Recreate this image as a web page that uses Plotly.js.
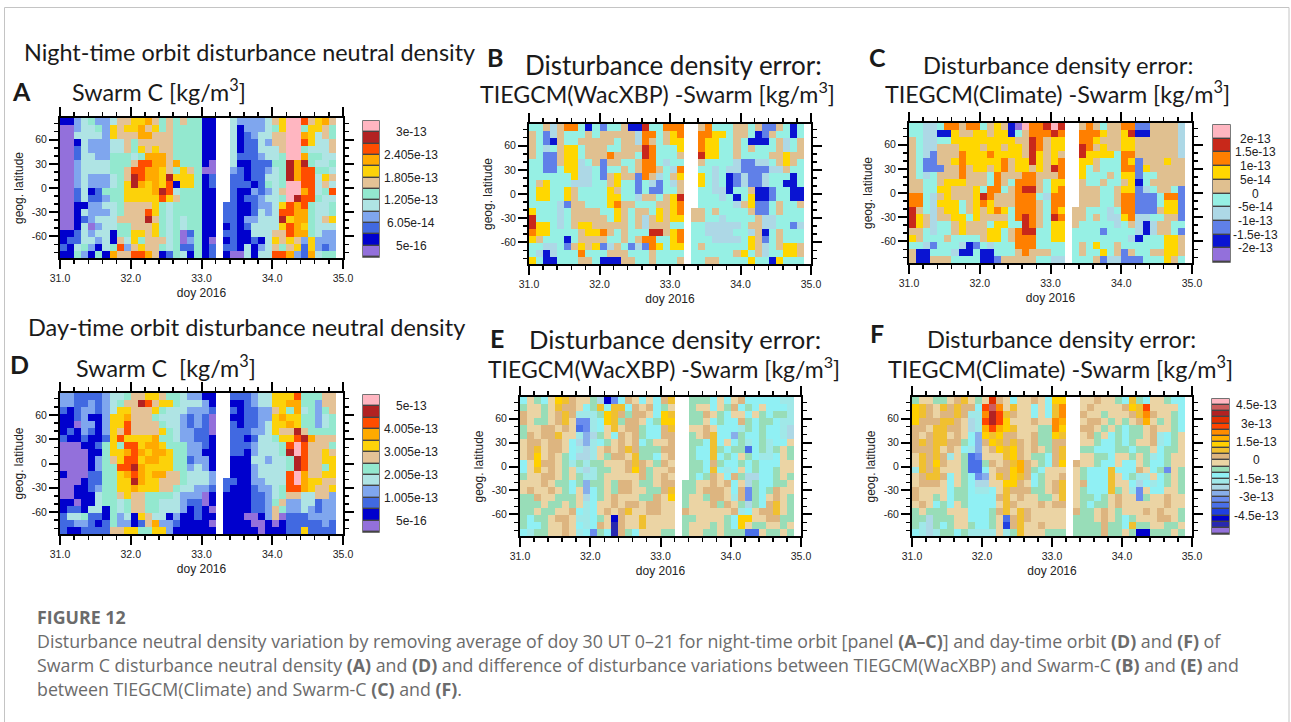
<!DOCTYPE html>
<html><head><meta charset="utf-8">
<script src="https://cdn.plot.ly/plotly-3.0.1.min.js"></script>
<style>html,body{margin:0;padding:0;background:#fff;overflow:hidden}#p{width:1291px;height:722px}</style>
</head><body><div id="p"></div>
<script>
// Level codes, top row (lat +87) to bottom (lat -87), 39 columns of 0.1 day from doy 31.0
const rowsA=[
"1134533466 7786565655 11 .. 433334 67bb96786",
"0034453767 7867565555 11 .. 413334 57bb57765",
"0044443766 6886665555 11 .. 412344 66bb87465",
"0014333446 5666665555 11 .. 412243 66bb97446",
"0024333446 5767665555 11 .. 412244 46bb54446",
"0024433555 4588865555 11 .. 422234 45bb85544",
"0034444555 6998868555 10 .. 411222 55a8a5445",
"0034444556 9988765765 00 .. 321223 45a899554",
"0034333456 a9887a7775 12 .. 221224 45a899476",
"0034333457 a878791775 12 .. 222125 45bb99464",
"0024125557 7778a94555 11 .. 211323 46bb89459",
"0024223557 7777976555 11 .. 212234 45ba99544",
"0011334456 6667545555 11 .2 211233 479895445",
"0014333456 6697545555 11 .2 211243 499885445",
"0012344466 66a6545455 11 .2 213344 4a7885467",
"0014034455 6667545455 11 .1 212444 479875444",
"1124344155 7767545025 11 .2 211444 669885433",
"1224434164 7566645035 10 .1 211214 767637333",
"2145314593 6766545225 12 .2 214134 656727323",
"1153151866 9986125415 12 .1 004144 998328455"];
const rowsD=[
"3322223445 6677655433 11 .. 222344 777955566",
"3322323456 6a96775444 31 .. 112344 778855366",
"2123323477 6667544433 32 .. 212233 675845356",
"1123113778 6665444323 20 .. 112233 787755345",
"1103313779 6666544323 20 .. 212234 778755345",
"1213213769 6666754332 20 .. 222334 766a65555",
"2112112797 7778554332 21 .. 221244 5779a8666",
"0001125759 9788755533 21 .. 222344 459b96665",
"0000115778 9878875533 11 .. 221344 45ab96676",
"0000135679 9788775523 31 .. 111443 445a96677",
"0000135599 a877775534 31 .. 111344 445a96657",
"1000225578 9878866544 43 .. 111344 449b86677",
"0001225577 a877666544 43 .2 211334 449b87766",
"0011235577 8777665443 32 .2 111233 459987667",
"0011145567 6655554333 01 .1 111223 456644663",
"1101145545 6655444322 01 .1 111223 563344233",
"1221441545 6655444312 10 .1 111223 653343233",
"2445221534 1764413112 11 .1 110013 602223333",
"2233212533 1268332111 10 .1 111001 012222232",
"2112222667 7557731111 11 .1 111101 112272222"];
const rowsB=[
"4453577414 2445118447 77 .. 574445 545225414",
"5423544454 5555537745 67 .. 776645 541254414",
"5421544555 5545537545 66 .. 766445 411145345",
"5434566455 5445558744 46 .. 766445 454445345",
"5422566455 5755548744 45 .. 866445 444455655",
"4422566345 2554457743 44 .. 544443 223345654",
"4422466334 2445457754 37 .. 443433 222233544",
"4444446334 2565527534 56 .. 643412 322344414",
"4564443334 4564424324 35 .. 643412 322344114",
"4664465444 4654424224 45 .. 443314 451124411",
"4664465444 4664435545 68 .. 444341 461124411",
"4444325544 4675544455 67 .. 444443 562245445",
"6444345555 4465455465 67 .5 545444 452245444",
"8444345555 5465453565 66 .5 544344 445334444",
"8664345665 5555453555 44 .4 433333 455334423",
"7664444566 7545444885 67 .4 433334 435145444",
"6544414555 5445457744 67 .4 443333 465245444",
"4433425656 2354232764 66 .4 544444 465345665",
"4313444744 4555444544 44 .4 444445 645344665",
"6411444554 1115544544 45 .4 455444 464416444"];
const rowsC=[
"4433477577 4565109778 98 .. 575455 772255553",
"4433116556 6566145777 87 .. 777655 681155553",
"5433446666 6666655875 66 .. 776555 665555553",
"5433555666 5665665875 66 .. 875655 665555553",
"5432555766 6766665865 65 .. 866664 775555553",
"5422556766 6667566865 67 .. 665444 762555655",
"5422255756 6567566565 87 .. 645444 772655555",
"5434555755 5475557755 57 .. 644454 662445555",
"5544566655 5475477754 66 .. 544544 561455555",
"5544665556 4774578854 67 .. 555445 662345542",
"7743565556 8755577743 77 .. 555445 772224772",
"7743666456 7655577754 77 .. 555445 772224662",
"8543566456 5676477754 76 .5 544434 772225662",
"8653556646 5555478754 87 .5 545433 673344552",
"8653445655 5466448754 66 .5 444443 453135544",
"5543445655 5664578844 66 .4 444244 443135542",
"6544454444 5664577744 66 .4 444444 431444665",
"4432444312 4344477744 44 .4 546445 444444665",
"5114443114 1144457555 44 .4 544645 254455665",
"5115554444 1125555544 33 .4 445233 222444654"];
const rowsE=[
"9ba9bedcbb a7259cb9b9 cd .. aaa9b9 bc9999988",
"abbabdccb9 ad9dd9cbc9 ab .. abb9ba c9a9b9998",
"cbbabcdc88 8aedcaccb9 ed .. aacba9 bb9ba9aa8",
"cbaabcdb55 89edaccb9a ee .. aab9a9 9ca9aa988",
"abbccbcb45 89bdbcca99 cd .. bbcb99 98a9a9987",
"acbccdbb86 7ab9cbca99 cc .. abcd99 6a99a9987",
"bccbccb976 89abcbc9ab bc .. aa9d9b 9a89a899b",
"bcdbccb987 8bcbcdcaaa cc .. a99da9 aa49a8aba",
"bcebcba977 8baccbdaa9 bc .. a99d9a 9ba9889ba",
"9beccba8a8 aabbbcdcba cb .. aa9ca9 9a9a999bb",
"9bdbcbab87 8aabbcecab bc .. aa9d98 9b9a99abb",
"abbccbaba8 8abbbbbcab cb .. a9acb9 ca7799aba",
"bbbcbaa9a6 aabaccbaab cc .a abbcbc 9b7a99aab",
"bcbbcba9b6 9abaccbbaa cd .a abcccb 9c5a9acbb",
"aacbbaaab7 9abcbbbaac be .a bbaccb 8c5a9bcba",
"aaabaabab8 9bbcbccbcc bb .a bbbcac ba7a9cdba",
"aabaabbc98 9bcbcdbbcc bb .c bbbbbb c89bccdba",
"a9aabccb88 9ab2cbbdbb bb .a abbbba 9eebbccaa",
"a99abbcb98 9cb1cbbdbb bb .a bbbaba 9ebaabbab",
"98aabbcb89 5a91ca9bbb aa .a bbaaba aa44baaba"];
const rowsF=[
"abbaabcdba bicb9bbcb9 ee .. bbcbba 9da9bba99",
"edcbdcdcc9 hkgbdbb9b9 dg .. bcbbbb cedhbbbb9",
"edcbccdc88 gjhdcbb9b9 dg .. cbbabb bcdgcbba9",
"ecccddcb78 hjhebbbcbb gf .. bccbab abcfbaba9",
"ccbddccb78 fhfedbbbaa ge .. ccbaba 9aabcbba9",
"cbcddbcb96 edeccbbcaa ed .. bcab9a 9aabc89ab",
"cdcddcca96 cedcdcbcaa cc .. bba99a 9abbc89ab",
"cccdbcb986 bcedecbcba cd .. aa999a a9aab9aab",
"bdcdc8ba45 bbbdecbaa9 cd .. bbaa9b baba89abb",
"bdcecbba44 acbcdfcba9 ce .c bba99b 99ba99abb",
"8dcdbbba44 9bccefca9b bb .b a999d9 99cb9a5ba",
"bcddc9ba95 6bdcedc9ab bc .b a999db 9a88b9aba",
"bcccb9ba97 7bbeecb9ab cd .b c999db b97989aba",
"cbbbb9aa98 89bdcccaab cd .b a999da b85b99bba",
"cbbab9aa99 99cdbcbbaa bd .b aa9abc bb5abbcbb",
"bcb9a9ba99 99bdcbbbcb cc .b a9aabc bbbbbbcbb",
"abaaabbb99 9acdbdcbbb bb .c aabcba bbbcbcbba",
"aa7aaabb99 9ab4cdcbbb bb .a aabcba 9abbbccba",
"a87a9abba9 9ab3cdbbcb bb .a aaacaa 9daabbaab",
"9878aa9a88 88b8adbbba aa .a aaacaa ba22aaaba"];
const levelsNight=[-1.45e-14,1.55e-14,4.55e-14,7.55e-14,1.055e-13,1.355e-13,1.655e-13,1.955e-13,2.255e-13,2.555e-13,2.855e-13,3.155e-13];
const levelsDay=[-2.45e-14,2.55e-14,7.55e-14,1.255e-13,1.755e-13,2.255e-13,2.755e-13,3.255e-13,3.755e-13,4.255e-13,4.755e-13,5.255e-13];
const levelsErr1=[-2.25e-13,-1.75e-13,-1.25e-13,-7.5e-14,-2.5e-14,2.5e-14,7.5e-14,1.25e-13,1.75e-13,2.25e-13];
const levelsErr2=[-5.25e-13,-4.75e-13,-4.25e-13,-3.75e-13,-3.25e-13,-2.75e-13,-2.25e-13,-1.75e-13,-1.25e-13,-7.5e-14,-2.5e-14,2.5e-14,7.5e-14,1.25e-13,1.75e-13,2.25e-13,2.75e-13,3.25e-13,3.75e-13,4.25e-13,4.75e-13,5.25e-13];
const colorsDensity=["#9370DB","#0000CD","#4169E1","#7FA6EE","#AFE4E4","#93E8CF","#E4C296","#FCD20A","#FFAA00","#FF4D00","#B22222","#FFB6C1"];
const colorsErr1=["#9370DB","#0A14D2","#6080E8","#ADD8E6","#96F0E4","#E0C090","#FFD700","#FF7F00","#C8281A","#FFB6C1"];
const colorsErr2=["#9370DB","#2828B0","#0000CD","#2040E0","#4A70E8","#6A8CEE","#88AEEA","#ADD8E6","#A0E8E8","#90F0F4","#98DDB8","#EBD4A4","#DDB580","#F0C030","#FFD000","#FFB000","#FF8C00","#FF4500","#E03000","#B22222","#CD5C5C","#FFB6C1"];
const ticksA=["3e-13","2.405e-13","1.805e-13","1.205e-13","6.05e-14","5e-16"];
const ticksD=["5e-13","4.005e-13","3.005e-13","2.005e-13","1.005e-13","5e-16"];
const ticksC=["2e-13","1.5e-13","1e-13","5e-14","0","-5e-14","-1e-13","-1.5e-13","-2e-13"];
const ticksF=["4.5e-13","3e-13","1.5e-13","0","-1.5e-13","-3e-13","-4.5e-13"];
const W=1291,H=722;
const traces=[],annotations=[],shapes=[],layout={width:W,height:H,margin:{l:0,r:0,t:0,b:0},paper_bgcolor:"#fff",plot_bgcolor:"#fff",showlegend:false};
let axN=0;
const FONT="Liberation Sans, Arial, sans-serif";
function newAxes(b){
  axN++;const s=axN===1?"":axN;
  const xk="xaxis"+s,yk="yaxis"+s;
  layout[xk]={domain:[b.l/W,b.r/W],anchor:"y"+s};
  layout[yk]={domain:[1-b.b/H,1-b.t/H],anchor:"x"+s};
  return {xk,yk,xr:"x"+s,yr:"y"+s};
}
function stepScale(colors){
  const n=colors.length,out=[];
  colors.forEach((c,i)=>{out.push([i/n,c]);out.push([(i+1)/n,c]);});
  return out;
}
const xCenters=Array.from({length:39},(_,i)=>31.05+0.1*i);
function panel(rows,levels,colors,b){
  const a=newAxes(b);
  const ny=rows.length,cell=174/ny;
  const yCenters=rows.map((_,i)=>87-(i+0.5)*cell);
  const z=rows.map(r=>r.replace(/ /g,"").split("").slice(0,39).map(ch=>ch==="."?null:levels[parseInt(ch,36)]));
  const d=levels[1]-levels[0];
  traces.push({type:"heatmap",x:xCenters,y:yCenters,z,xaxis:a.xr,yaxis:a.yr,colorscale:stepScale(colors),zmin:levels[0]-d/2,zmax:levels[levels.length-1]+d/2,showscale:false,zsmooth:false,hoverongaps:false});
  const common={showline:true,linecolor:"#000",linewidth:2,mirror:"ticks",ticks:"outside",tickcolor:"#000",tickwidth:2,ticklen:9,showgrid:false,zeroline:false,tickfont:{family:FONT,size:10.5,color:"#222"}};
  Object.assign(layout[a.xk],common,{range:[31,35],tick0:31,dtick:1,tickformat:".1f",minor:{dtick:0.2,ticks:"outside",ticklen:4,tickcolor:"#000",tickwidth:1.5,showgrid:false},title:{text:"doy 2016",font:{family:FONT,size:12,color:"#222"},standoff:6}});
  Object.assign(layout[a.yk],common,{range:[-87,87],tickvals:[-60,-30,0,30,60],ticktext:["-60","-30","0","30","60"],minor:{dtick:10,ticks:"outside",ticklen:4,tickcolor:"#000",tickwidth:1.5,showgrid:false},title:{text:"geog. latitude",font:{family:FONT,size:12,color:"#222"},standoff:6}});
}
function bar(colors,levels,labels,step,b,cx){
  const a=newAxes(b),n=colors.length;
  traces.push({type:"heatmap",x:[0],y:colors.map((_,i)=>i),z:colors.map((_,i)=>[levels[i]]),xaxis:a.xr,yaxis:a.yr,colorscale:stepScale(colors),zmin:levels[0]-(levels[1]-levels[0])/2,zmax:levels[n-1]+(levels[1]-levels[0])/2,showscale:false,ygap:1.4,hoverinfo:"skip"});
  layout[a.xk]=Object.assign(layout[a.xk],{range:[-0.5,0.5],visible:false,fixedrange:true});
  layout[a.yk]=Object.assign(layout[a.yk],{range:[-0.5,n-0.5],visible:false,fixedrange:true});
  shapes.push({type:"rect",layer:"below",xref:"paper",yref:"paper",x0:b.l/W,x1:b.r/W,y0:1-b.b/H,y1:1-b.t/H,fillcolor:"#444",line:{color:"#444",width:1.4}});
  labels.forEach((t,i)=>annotations.push({xref:"paper",yref:a.yr,x:cx/W,y:n-1.5-i*step,text:t,showarrow:false,xanchor:"center",yanchor:"middle",font:{family:FONT,size:12,color:"#222"}}));
}
function txt(t,x,y,size,opts){
  annotations.push(Object.assign({xref:"paper",yref:"paper",x:x/W,y:1-y/H,text:t,showarrow:false,xanchor:"left",yanchor:"middle",font:{family:"Lato, sans-serif",size,color:"#1a1a1a"}},opts||{}));
}
panel(rowsA,levelsNight,colorsDensity,{l:60,r:343,t:118,b:258});
panel(rowsB,levelsErr1,colorsErr1,{l:529,r:811,t:124,b:264});
panel(rowsC,levelsErr1,colorsErr1,{l:909,r:1192,t:123,b:263});
panel(rowsD,levelsDay,colorsDensity,{l:60,r:343,t:393,b:534});
panel(rowsE,levelsErr2,colorsErr2,{l:520,r:801,t:397,b:536});
panel(rowsF,levelsErr2,colorsErr2,{l:912,r:1192,t:397,b:536});
bar(colorsDensity,levelsNight,ticksA,2,{l:363,r:379,t:121,b:257},411);
bar(colorsErr1,levelsErr1,ticksC,1,{l:1213,r:1230,t:125,b:262},1255);
bar(colorsDensity,levelsDay,ticksD,2,{l:363,r:379,t:395,b:532},411);
bar(colorsErr2,levelsErr2,ticksF,3,{l:1212,r:1229,t:399,b:534},1256);
const m3="[kg/m<sup>3</sup>]";
txt("Night-time orbit disturbance neutral density",22,52,23.4);
txt("Swarm C "+m3,70,90,23.3);
txt("<b>A</b>",10,91,25);
txt("<b>B</b>",485,57,25);
txt("Disturbance density error:",523,65,26);
txt("TIEGCM(WacXBP) -Swarm "+m3,478,92,23.2);
txt("<b>C</b>",867,57,25);
txt("Disturbance density error:",921,65,23.7);
txt("TIEGCM(Climate) -Swarm "+m3,883,92,23.4);
txt("Day-time orbit disturbance neutral density",26,327,23.5);
txt("<b>D</b>",8,364,25);
txt("Swarm C  "+m3,74,366,23.3);
txt("<b>E</b>",488,338,25);
txt("Disturbance density error:",527,339,25.6);
txt("TIEGCM(WacXBP) -Swarm "+m3,486,367,23);
txt("<b>F</b>",868,333,25);
txt("Disturbance density error:",925,339,23.6);
txt("TIEGCM(Climate) -Swarm "+m3,886,367,23.4);
const capFont={family:"Open Sans, sans-serif",size:17.8,color:"#6b6b6b"};
txt("<b>FIGURE 12</b>",35,617,17.8,{font:capFont});
txt("Disturbance neutral density variation by removing average of doy 30 UT 0–21 for night-time orbit [panel <b>(A–C)</b>] and day-time orbit <b>(D)</b> and <b>(F)</b> of",35,641,17.8,{font:capFont});
txt("Swarm C disturbance neutral density <b>(A)</b> and <b>(D)</b> and difference of disturbance variations between TIEGCM(WacXBP) and Swarm-C <b>(B)</b> and <b>(E)</b> and",35,665,17.8,{font:capFont});
txt("between TIEGCM(Climate) and Swarm-C <b>(C)</b> and <b>(F)</b>.",35,689,17.8,{font:capFont});
[[4.5,7.5,1289,7.5],[4.5,7.5,4.5,722],[1289,7.5,1289,722]].forEach(s=>shapes.push({type:"line",layer:"below",xref:"paper",yref:"paper",x0:s[0]/W,x1:s[2]/W,y0:1-s[1]/H,y1:1-s[3]/H,line:{color:"#c4c4c4",width:1}}));
layout.annotations=annotations;layout.shapes=shapes;
Plotly.newPlot("p",traces,layout,{displayModeBar:false,staticPlot:true});
</script></body></html>
